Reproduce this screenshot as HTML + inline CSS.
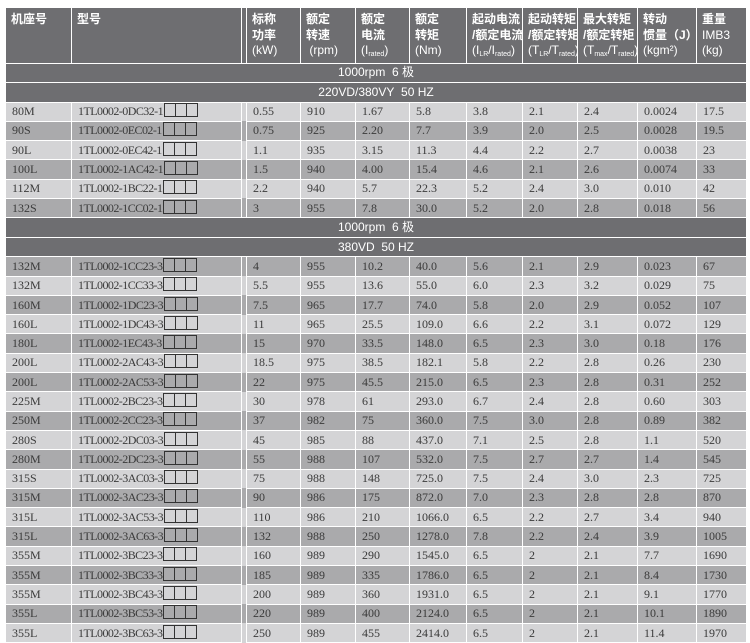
<!DOCTYPE html>
<html><head><meta charset="utf-8"><style>
body{margin:0;width:750px;height:642px;background:#fff;overflow:hidden}
table{position:absolute;left:5px;top:7px;border-collapse:collapse;table-layout:fixed;width:741px}
td{border:1px solid #fff;padding:0 0 0 6px;font-family:"Liberation Serif",serif;font-size:12px;color:#3a3a3a;height:19.3px;box-sizing:border-box;white-space:nowrap;overflow:hidden;line-height:17px}
td.m{letter-spacing:-0.55px}
td.g{background:#fff;border:none;padding:0}
tr.h td{background:#6e6e71;color:#fff;font-family:"Liberation Sans","Noto Sans CJK SC",sans-serif;font-size:12px;font-weight:bold;vertical-align:top;padding-top:4px;padding-left:5px;line-height:15.5px;height:50px;letter-spacing:0}
tr.h td span{font-weight:normal}
tr.s td{background:#6e6e71;color:#fff;font-family:"Liberation Sans","Noto Sans CJK SC",sans-serif;font-size:12px;text-align:center;height:19.5px;padding:0}
tr.l td{background:#d4d4d6}
tr.d td{background:#aaaaac}
sub{font-size:7px;vertical-align:-2px}
.b{display:inline-block;width:10px;height:12px;border:1px solid #333;vertical-align:-2px;margin-left:-1px;letter-spacing:0}
.b:first-child{margin-left:1px}
</style></head><body>
<table>
<colgroup><col style="width:66px"><col style="width:170px"><col style="width:5px"><col style="width:54px"><col style="width:55px"><col style="width:54px"><col style="width:57px"><col style="width:56px"><col style="width:55px"><col style="width:60px"><col style="width:59px"><col style="width:50px"></colgroup>
<tr class="h"><td>机座号</td><td>型号</td><td class="g"></td><td>标称<br>功率<br><span>(kW)</span></td><td>额定<br>转速<br><span>&nbsp;(rpm)</span></td><td>额定<br>电流<br><span>(I<sub>rated</sub>)</span></td><td>额定<br>转矩<br><span>(Nm)</span></td><td>起动电流<br>/额定电流<br><span>(I<sub>LR</sub>/I<sub>rated</sub>)</span></td><td>起动转矩<br>/额定转矩<br><span>(T<sub>LR</sub>/T<sub>rated</sub>)</span></td><td>最大转矩<br>/额定转矩<br><span>(T<sub>max</sub>/T<sub>rated</sub>)</span></td><td>转动<br>惯量（J）<br><span>(kgm²)</span></td><td>重量<br><span>IMB3<br>(kg)</span></td></tr>
<tr class="s"><td colspan="12">1000rpm&nbsp; 6 极</td></tr>
<tr class="s"><td colspan="12">220VD/380VY&nbsp; 50 HZ</td></tr>
<tr class="l"><td>80M</td><td class="m">1TL0002-0DC32-1<span class="b"></span><span class="b"></span><span class="b"></span></td><td class="g"></td><td>0.55</td><td>910</td><td>1.67</td><td>5.8</td><td>3.8</td><td>2.1</td><td>2.4</td><td>0.0024</td><td>17.5</td></tr>
<tr class="d"><td>90S</td><td class="m">1TL0002-0EC02-1<span class="b"></span><span class="b"></span><span class="b"></span></td><td class="g"></td><td>0.75</td><td>925</td><td>2.20</td><td>7.7</td><td>3.9</td><td>2.0</td><td>2.5</td><td>0.0028</td><td>19.5</td></tr>
<tr class="l"><td>90L</td><td class="m">1TL0002-0EC42-1<span class="b"></span><span class="b"></span><span class="b"></span></td><td class="g"></td><td>1.1</td><td>935</td><td>3.15</td><td>11.3</td><td>4.4</td><td>2.2</td><td>2.7</td><td>0.0038</td><td>23</td></tr>
<tr class="d"><td>100L</td><td class="m">1TL0002-1AC42-1<span class="b"></span><span class="b"></span><span class="b"></span></td><td class="g"></td><td>1.5</td><td>940</td><td>4.00</td><td>15.4</td><td>4.6</td><td>2.1</td><td>2.6</td><td>0.0074</td><td>33</td></tr>
<tr class="l"><td>112M</td><td class="m">1TL0002-1BC22-1<span class="b"></span><span class="b"></span><span class="b"></span></td><td class="g"></td><td>2.2</td><td>940</td><td>5.7</td><td>22.3</td><td>5.2</td><td>2.4</td><td>3.0</td><td>0.010</td><td>42</td></tr>
<tr class="d"><td>132S</td><td class="m">1TL0002-1CC02-1<span class="b"></span><span class="b"></span><span class="b"></span></td><td class="g"></td><td>3</td><td>955</td><td>7.8</td><td>30.0</td><td>5.2</td><td>2.0</td><td>2.8</td><td>0.018</td><td>56</td></tr>
<tr class="s"><td colspan="12">1000rpm&nbsp; 6 极</td></tr>
<tr class="s"><td colspan="12">380VD&nbsp; 50 HZ</td></tr>
<tr class="d"><td>132M</td><td class="m">1TL0002-1CC23-3<span class="b"></span><span class="b"></span><span class="b"></span></td><td class="g"></td><td>4</td><td>955</td><td>10.2</td><td>40.0</td><td>5.6</td><td>2.1</td><td>2.9</td><td>0.023</td><td>67</td></tr>
<tr class="l"><td>132M</td><td class="m">1TL0002-1CC33-3<span class="b"></span><span class="b"></span><span class="b"></span></td><td class="g"></td><td>5.5</td><td>955</td><td>13.6</td><td>55.0</td><td>6.0</td><td>2.3</td><td>3.2</td><td>0.029</td><td>75</td></tr>
<tr class="d"><td>160M</td><td class="m">1TL0002-1DC23-3<span class="b"></span><span class="b"></span><span class="b"></span></td><td class="g"></td><td>7.5</td><td>965</td><td>17.7</td><td>74.0</td><td>5.8</td><td>2.0</td><td>2.9</td><td>0.052</td><td>107</td></tr>
<tr class="l"><td>160L</td><td class="m">1TL0002-1DC43-3<span class="b"></span><span class="b"></span><span class="b"></span></td><td class="g"></td><td>11</td><td>965</td><td>25.5</td><td>109.0</td><td>6.6</td><td>2.2</td><td>3.1</td><td>0.072</td><td>129</td></tr>
<tr class="d"><td>180L</td><td class="m">1TL0002-1EC43-3<span class="b"></span><span class="b"></span><span class="b"></span></td><td class="g"></td><td>15</td><td>970</td><td>33.5</td><td>148.0</td><td>6.5</td><td>2.3</td><td>3.0</td><td>0.18</td><td>176</td></tr>
<tr class="l"><td>200L</td><td class="m">1TL0002-2AC43-3<span class="b"></span><span class="b"></span><span class="b"></span></td><td class="g"></td><td>18.5</td><td>975</td><td>38.5</td><td>182.1</td><td>5.8</td><td>2.2</td><td>2.8</td><td>0.26</td><td>230</td></tr>
<tr class="d"><td>200L</td><td class="m">1TL0002-2AC53-3<span class="b"></span><span class="b"></span><span class="b"></span></td><td class="g"></td><td>22</td><td>975</td><td>45.5</td><td>215.0</td><td>6.5</td><td>2.3</td><td>2.8</td><td>0.31</td><td>252</td></tr>
<tr class="l"><td>225M</td><td class="m">1TL0002-2BC23-3<span class="b"></span><span class="b"></span><span class="b"></span></td><td class="g"></td><td>30</td><td>978</td><td>61</td><td>293.0</td><td>6.7</td><td>2.4</td><td>2.8</td><td>0.60</td><td>303</td></tr>
<tr class="d"><td>250M</td><td class="m">1TL0002-2CC23-3<span class="b"></span><span class="b"></span><span class="b"></span></td><td class="g"></td><td>37</td><td>982</td><td>75</td><td>360.0</td><td>7.5</td><td>3.0</td><td>2.8</td><td>0.89</td><td>382</td></tr>
<tr class="l"><td>280S</td><td class="m">1TL0002-2DC03-3<span class="b"></span><span class="b"></span><span class="b"></span></td><td class="g"></td><td>45</td><td>985</td><td>88</td><td>437.0</td><td>7.1</td><td>2.5</td><td>2.8</td><td>1.1</td><td>520</td></tr>
<tr class="d"><td>280M</td><td class="m">1TL0002-2DC23-3<span class="b"></span><span class="b"></span><span class="b"></span></td><td class="g"></td><td>55</td><td>988</td><td>107</td><td>532.0</td><td>7.5</td><td>2.7</td><td>2.7</td><td>1.4</td><td>545</td></tr>
<tr class="l"><td>315S</td><td class="m">1TL0002-3AC03-3<span class="b"></span><span class="b"></span><span class="b"></span></td><td class="g"></td><td>75</td><td>988</td><td>148</td><td>725.0</td><td>7.5</td><td>2.4</td><td>3.0</td><td>2.3</td><td>725</td></tr>
<tr class="d"><td>315M</td><td class="m">1TL0002-3AC23-3<span class="b"></span><span class="b"></span><span class="b"></span></td><td class="g"></td><td>90</td><td>986</td><td>175</td><td>872.0</td><td>7.0</td><td>2.3</td><td>2.8</td><td>2.8</td><td>870</td></tr>
<tr class="l"><td>315L</td><td class="m">1TL0002-3AC53-3<span class="b"></span><span class="b"></span><span class="b"></span></td><td class="g"></td><td>110</td><td>986</td><td>210</td><td>1066.0</td><td>6.5</td><td>2.2</td><td>2.7</td><td>3.4</td><td>940</td></tr>
<tr class="d"><td>315L</td><td class="m">1TL0002-3AC63-3<span class="b"></span><span class="b"></span><span class="b"></span></td><td class="g"></td><td>132</td><td>988</td><td>250</td><td>1278.0</td><td>7.8</td><td>2.2</td><td>2.4</td><td>3.9</td><td>1005</td></tr>
<tr class="l"><td>355M</td><td class="m">1TL0002-3BC23-3<span class="b"></span><span class="b"></span><span class="b"></span></td><td class="g"></td><td>160</td><td>989</td><td>290</td><td>1545.0</td><td>6.5</td><td>2</td><td>2.1</td><td>7.7</td><td>1690</td></tr>
<tr class="d"><td>355M</td><td class="m">1TL0002-3BC33-3<span class="b"></span><span class="b"></span><span class="b"></span></td><td class="g"></td><td>185</td><td>989</td><td>335</td><td>1786.0</td><td>6.5</td><td>2</td><td>2.1</td><td>8.4</td><td>1730</td></tr>
<tr class="l"><td>355M</td><td class="m">1TL0002-3BC43-3<span class="b"></span><span class="b"></span><span class="b"></span></td><td class="g"></td><td>200</td><td>989</td><td>360</td><td>1931.0</td><td>6.5</td><td>2</td><td>2.1</td><td>9.1</td><td>1770</td></tr>
<tr class="d"><td>355L</td><td class="m">1TL0002-3BC53-3<span class="b"></span><span class="b"></span><span class="b"></span></td><td class="g"></td><td>220</td><td>989</td><td>400</td><td>2124.0</td><td>6.5</td><td>2</td><td>2.1</td><td>10.1</td><td>1890</td></tr>
<tr class="l"><td>355L</td><td class="m">1TL0002-3BC63-3<span class="b"></span><span class="b"></span><span class="b"></span></td><td class="g"></td><td>250</td><td>989</td><td>455</td><td>2414.0</td><td>6.5</td><td>2</td><td>2.1</td><td>11.4</td><td>1970</td></tr>
</table>
</body></html>
